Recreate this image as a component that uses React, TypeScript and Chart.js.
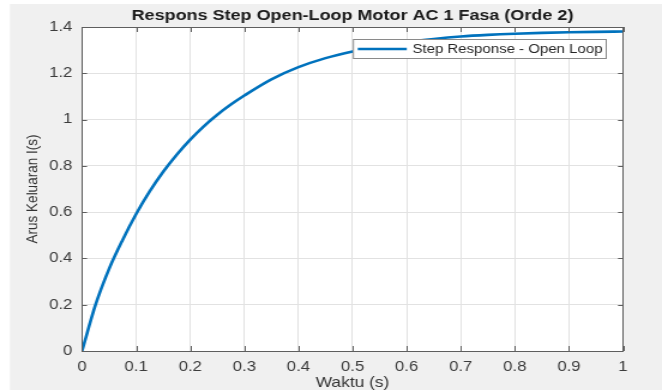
import React, { useEffect, useRef } from "react";
import { Chart, registerables } from "chart.js";

Chart.register(...registerables);

// ---- data ----
const timeValues = [
  0, 0.025, 0.05, 0.075, 0.1, 0.125, 0.15, 0.175, 0.2, 0.225, 0.25, 0.275, 0.3, 0.35, 0.4, 0.45,
  0.5, 0.55, 0.6, 0.65, 0.7, 0.75, 0.8, 0.85, 0.9, 0.95, 1.0,
];
const currentValues = [
  0, 0.2, 0.355, 0.48, 0.592, 0.6895, 0.7745, 0.8485, 0.9135, 0.971, 1.021, 1.065, 1.104, 1.174,
  1.2265, 1.2655, 1.2945, 1.317, 1.335, 1.3485, 1.359, 1.366, 1.371, 1.3745, 1.377, 1.379, 1.3805,
];
const xTickLabels = ["0", "0.1", "0.2", "0.3", "0.4", "0.5", "0.6", "0.7", "0.8", "0.9", "1"];
const yTickLabels = ["0", "0.2", "0.4", "0.6", "0.8", "1", "1.2", "1.4"];
const seriesLabel = "Step Response - Open Loop";
const chartTitle = "Respons Step Open-Loop Motor AC 1 Fasa (Orde 2)";
const xAxisTitle = "Waktu (s)";
const yAxisTitle = "Arus Keluaran I(s)";

// ---- layout (chart drawn narrower, then stretched horizontally like the reference) ----
const W = 552;
const H = 390;
const STRETCH = 662 / W;
const FONT = "'Liberation Sans', Arial, Helvetica, sans-serif";

const decorPlugin = {
  id: "matlabDecor",
  beforeDraw(chart: any) {
    const { ctx } = chart;
    ctx.save();
    ctx.fillStyle = "#ffffff";
    ctx.fillRect(0, 0, W, H);
    ctx.fillStyle = "#f0f0f0";
    ctx.fillRect(8.3, 4, W - 8.3, H - 4);
    const a = chart.chartArea;
    ctx.fillStyle = "#ffffff";
    ctx.fillRect(a.left, a.top, a.right - a.left, a.bottom - a.top);
    ctx.restore();
  },
  afterDraw(chart: any) {
    const { ctx } = chart;
    const a = chart.chartArea;
    const xs = chart.scales.x;
    const ys = chart.scales.y;
    ctx.save();
    // axes box
    ctx.strokeStyle = "#5e5e5e";
    ctx.lineWidth = 1;
    ctx.strokeRect(Math.round(a.left) + 0.5, Math.round(a.top) + 0.5, Math.round(a.right - a.left), Math.round(a.bottom - a.top));
    // inward tick marks
    ctx.beginPath();
    xs.ticks.forEach((t: any) => {
      const px = Math.round(xs.getPixelForValue(t.value)) + 0.5;
      ctx.moveTo(px, a.bottom);
      ctx.lineTo(px, a.bottom - 5);
      ctx.moveTo(px, a.top);
      ctx.lineTo(px, a.top + 5);
    });
    ys.ticks.forEach((t: any) => {
      const py = Math.round(ys.getPixelForValue(t.value)) + 0.5;
      ctx.moveTo(a.left, py);
      ctx.lineTo(a.left + 4.2, py);
      ctx.moveTo(a.right, py);
      ctx.lineTo(a.right - 4.2, py);
    });
    ctx.stroke();

    // title
    ctx.fillStyle = "#1a1a1a";
    ctx.font = `bold 15px ${FONT}`;
    ctx.textAlign = "center";
    ctx.textBaseline = "alphabetic";
    ctx.fillText(chartTitle, (a.left + a.right) / 2, 20);

    // x axis title
    ctx.fillStyle = "#333333";
    ctx.font = `14.5px ${FONT}`;
    ctx.fillText(xAxisTitle, (a.left + a.right) / 2, 387);

    // y axis title
    ctx.save();
    ctx.translate(31, (a.top + a.bottom) / 2);
    ctx.rotate(-Math.PI / 2);
    ctx.font = `13.5px ${FONT}`;
    ctx.fillText(yAxisTitle, 0, 0);
    ctx.restore();

    // legend
    const lx0 = 294.2;
    const lx1 = 505;
    const ly0 = 39;
    const ly1 = 58;
    ctx.fillStyle = "#ffffff";
    ctx.fillRect(lx0, ly0, lx1 - lx0, ly1 - ly0);
    ctx.strokeStyle = "#8a8a8a";
    ctx.lineWidth = 1;
    ctx.strokeRect(lx0 + 0.5, ly0 + 0.5, lx1 - lx0, ly1 - ly0);
    ctx.strokeStyle = "#0072BD";
    ctx.lineWidth = 2.6;
    ctx.beginPath();
    ctx.moveTo(298.3, 49);
    ctx.lineTo(339.2, 49);
    ctx.stroke();
    ctx.fillStyle = "#262626";
    ctx.font = `12.5px ${FONT}`;
    ctx.textAlign = "left";
    ctx.fillText(seriesLabel, 343.9, 53.3);
    ctx.restore();
  },
};

export default function App() {
  const canvasRef = useRef<HTMLCanvasElement | null>(null);

  useEffect(() => {
    if (!canvasRef.current) return;
    const points = timeValues.map((t, i) => ({ x: t, y: currentValues[i] }));
    const chart = new Chart(canvasRef.current, {
      type: "line",
      data: {
        datasets: [
          {
            label: seriesLabel,
            data: points,
            borderColor: "#0072BD",
            backgroundColor: "#0072BD",
            borderWidth: 2.6,
            pointRadius: 0,
            cubicInterpolationMode: "monotone",
            fill: false,
          },
        ],
      },
      options: {
        animation: false,
        responsive: false,
        maintainAspectRatio: false,
        devicePixelRatio: 1,
        layout: { padding: { left: 0, right: W - 519.5, top: 27, bottom: 0 } },
        plugins: {
          legend: { display: false },
          title: { display: false },
          tooltip: { enabled: false },
        },
        scales: {
          x: {
            type: "linear",
            min: 0,
            max: 1,
            afterFit: (s: any) => {
              s.height = 39;
            },
            grid: { color: "#e2e2e2", drawTicks: false },
            border: { display: false },
            ticks: {
              stepSize: 0.1,
              padding: 8,
              color: "#3c3c3c",
              font: { family: FONT, size: 14 },
              maxRotation: 0,
              callback: (_v: any, i: number) => xTickLabels[i],
            },
          },
          y: {
            type: "linear",
            min: 0,
            max: 1.4,
            afterFit: (s: any) => {
              s.width = 68.4;
            },
            grid: { color: "#e2e2e2", drawTicks: false },
            border: { display: false },
            ticks: {
              stepSize: 0.2,
              padding: 8,
              color: "#3c3c3c",
              font: { family: FONT, size: 14 },
              callback: (_v: any, i: number) => yTickLabels[i],
            },
          },
        },
      },
      plugins: [decorPlugin],
    });
    return () => chart.destroy();
  }, []);

  return (
    <div
      style={{
        position: "absolute",
        left: 0,
        top: 0,
        width: W,
        height: H,
        transform: `scaleX(${STRETCH})`,
        transformOrigin: "0 0",
      }}
    >
      <canvas ref={canvasRef} width={W} height={H} style={{ display: "block" }} />
    </div>
  );
}
